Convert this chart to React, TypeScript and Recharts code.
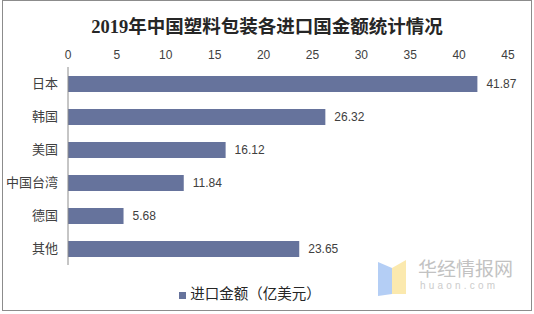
import React from 'react';
import { BarChart, Bar, XAxis, YAxis, Legend, LabelList } from 'recharts';

// 2019年中国塑料包装各进口国金额（亿美元）
const countries = ['日本', '韩国', '美国', '中国台湾', '德国', '其他'];
const amounts = [41.87, 26.32, 16.12, 11.84, 5.68, 23.65];
const xTicks = [0, 5, 10, 15, 20, 25, 30, 35, 40, 45];

const chartData = countries.map((name, i) => ({ name, amount: amounts[i] }));

const font = '"Liberation Sans", "Noto Sans CJK SC", sans-serif';

const App = () => {
  return (
    <div style={{ position: 'absolute', left: 0, top: 0, width: 534, height: 314, background: '#fff', fontFamily: font }}>
      {/* outer frame */}
      <div style={{ position: 'absolute', left: 2, top: 0, width: 528, height: 309, border: '1px solid #8c8c8c' }} />

      {/* title */}
      <div
        style={{
          position: 'absolute',
          left: 0,
          top: 12,
          width: 534,
          textAlign: 'center',
          fontFamily: '"Liberation Serif", "Noto Sans CJK SC", serif',
          fontWeight: 'bold',
          fontSize: 18.5,
          color: '#262626',
        }}
      >
        2019年中国塑料包装各进口国金额统计情况
      </div>

      <BarChart
        width={534}
        height={314}
        data={chartData}
        layout="vertical"
        margin={{ top: 37, right: 26, left: 2, bottom: 28 }}
        barSize={16}
      >
        <XAxis
          type="number"
          orientation="top"
          domain={[0, 45]}
          ticks={xTicks}
          interval={0}
          height={30}
          axisLine={false}
          tickLine={false}
          tick={{ fontSize: 12, fill: '#404040', fontFamily: font }}
        />
        <YAxis
          type="category"
          dataKey="name"
          width={66}
          axisLine={{ stroke: '#8c8c8c' }}
          tickLine={false}
          tickMargin={4}
          tick={{ fontSize: 13, fill: '#404040', fontFamily: font }}
        />
        <Legend
          verticalAlign="bottom"
          align="center"
          iconType="square"
          iconSize={7}
          wrapperStyle={{ bottom: 11, fontSize: 14.5, fontFamily: font }}
          formatter={(value) => <span style={{ color: '#262626' }}>{value}</span>}
        />
        <Bar dataKey="amount" name="进口金额（亿美元）" fill="#66739c" isAnimationActive={false}>
          <LabelList dataKey="amount" position="right" offset={9} fill="#404040" fontSize={12} fontFamily={font} />
        </Bar>
      </BarChart>

      {/* watermark */}
      <div style={{ position: 'absolute', left: 378, top: 252, width: 140, height: 46, opacity: 0.85 }}>
        <svg width={34} height={40} style={{ position: 'absolute', left: 0, top: 6 }}>
          <polygon points="0,4 14,10 14,36 0,38" fill="#a8c6f4" />
          <polygon points="14,10 28,2 28,36 14,36" fill="#fbe6a0" />
        </svg>
        <div style={{ position: 'absolute', left: 40, top: 2, fontSize: 19, color: '#b8b8b8', fontFamily: '"Noto Sans CJK SC", sans-serif', letterSpacing: 0 }}>
          华经情报网
        </div>
        <div style={{ position: 'absolute', left: 42, top: 28, fontSize: 10, color: '#c4c4c4', letterSpacing: 3.2 }}>
          huaon.com
        </div>
      </div>
    </div>
  );
};

export default App;
